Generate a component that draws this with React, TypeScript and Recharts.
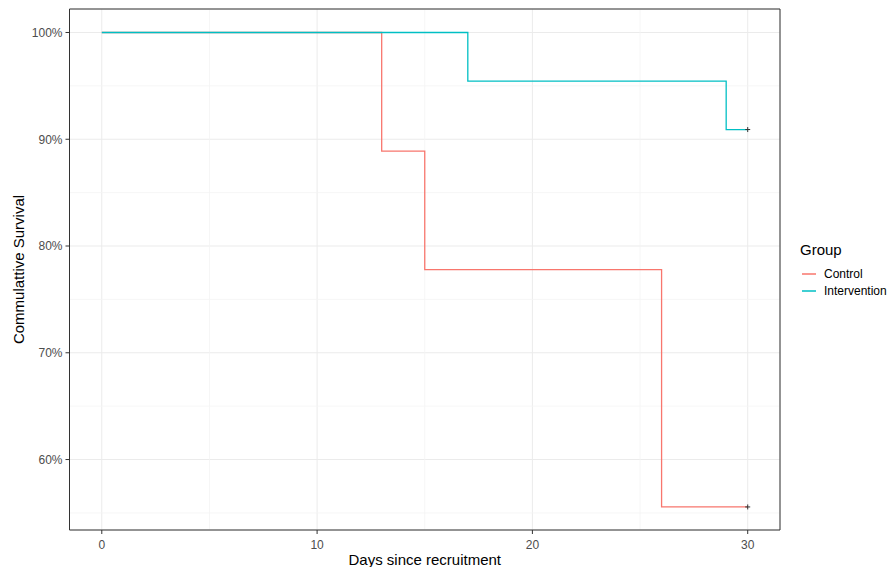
import React from "react";
import {
  ComposedChart,
  Line,
  Scatter,
  XAxis,
  YAxis,
  CartesianGrid,
  ReferenceLine,
  Label,
} from "recharts";

const controlTimes = [0, 13, 15, 26, 30];
const controlSurv = [100, 88.89, 77.78, 55.56, 55.56];
const interventionTimes = [0, 17, 29, 30];
const interventionSurv = [100, 95.45, 90.91, 90.91];
const censorTimes = [30, 30];
const censorSurv = [90.91, 55.56];
const xTicks = [0, 10, 20, 30];
const xMinor = [5, 15, 25];
const yTicks = [60, 70, 80, 90, 100];
const yMinor = [55, 65, 75, 85, 95];
const seriesNames = ["Control", "Intervention"];
const seriesColors = ["#F8766D", "#00BFC4"];

const controlData = controlTimes.map((t, i) => ({ t, s: controlSurv[i] }));
const interventionData = interventionTimes.map((t, i) => ({ t, s: interventionSurv[i] }));
const censorData = censorTimes.map((t, i) => ({ t, s: censorSurv[i] }));

const X_DOMAIN: [number, number] = [-1.5, 31.5];
const Y_DOMAIN: [number, number] = [53.4, 102.2];
const FONT = "'Liberation Sans', Arial, sans-serif";
const W = 896;
const H = 575;

const Plus = (props: any) => {
  const { cx, cy } = props;
  if (cx == null || cy == null) return null;
  return (
    <g>
      <line x1={cx - 2.5} x2={cx + 2.5} y1={cy} y2={cy} stroke="#333" strokeWidth={1} />
      <line x1={cx} x2={cx} y1={cy - 2.5} y2={cy + 2.5} stroke="#333" strokeWidth={1} />
    </g>
  );
};

const YTitle = (props: any) => {
  const vb = props.viewBox || {};
  const cy = (vb.y ?? 0) + (vb.height ?? 0) / 2;
  const cx = 18;
  return (
    <text
      x={cx}
      y={cy}
      transform={`rotate(-90, ${cx}, ${cy})`}
      textAnchor="middle"
      dominantBaseline="central"
      style={{ fill: "#000", fontSize: 15, fontFamily: FONT }}
    >
      Commulattive Survival
    </text>
  );
};

const XTitle = (props: any) => {
  const vb = props.viewBox || {};
  const cx = (vb.x ?? 0) + (vb.width ?? 0) / 2;
  const cy = 559.5;
  return (
    <text
      x={cx}
      y={cy}
      textAnchor="middle"
      dominantBaseline="central"
      style={{ fill: "#000", fontSize: 15, fontFamily: FONT }}
    >
      Days since recruitment
    </text>
  );
};

export default function App() {
  return (
    <div style={{ position: "relative", width: W, height: H, margin: -8, fontFamily: FONT }}>
      <ComposedChart
        width={W}
        height={H}
        margin={{ top: 9, right: 116, bottom: 0, left: 0 }}
      >
        <CartesianGrid stroke="#EBEBEB" strokeWidth={1} />
        {xMinor.map((v) => (
          <ReferenceLine key={"xm" + v} x={v} stroke="#F4F4F4" strokeWidth={0.8} />
        ))}
        {yMinor.map((v) => (
          <ReferenceLine key={"ym" + v} y={v} stroke="#F4F4F4" strokeWidth={0.8} />
        ))}
        <XAxis
          type="number"
          dataKey="t"
          domain={X_DOMAIN}
          ticks={xTicks}
          allowDataOverflow
          height={45}
          tickSize={4}
          tickMargin={6}
          stroke="#333"
          tick={{ fill: "#4D4D4D", fontSize: 12, fontFamily: FONT }}
          tickLine={{ stroke: "#333" }}
        >
          <Label content={<XTitle />} />
        </XAxis>
        <YAxis
          type="number"
          dataKey="s"
          domain={Y_DOMAIN}
          ticks={yTicks}
          allowDataOverflow
          width={69.5}
          tickSize={4}
          tickMargin={3}
          stroke="#333"
          tickFormatter={(v: number) => `${v}%`}
          tick={{ fill: "#4D4D4D", fontSize: 12, fontFamily: FONT }}
          tickLine={{ stroke: "#333" }}
        >
          <Label content={<YTitle />} />
        </YAxis>
        <ReferenceLine y={Y_DOMAIN[1]} stroke="#333" strokeWidth={1} />
        <ReferenceLine x={X_DOMAIN[1]} stroke="#333" strokeWidth={1} />
        <Line
          data={controlData}
          dataKey="s"
          type="stepAfter"
          stroke={seriesColors[0]}
          strokeWidth={1.3}
          dot={false}
          isAnimationActive={false}
          name={seriesNames[0]}
        />
        <Line
          data={interventionData}
          dataKey="s"
          type="stepAfter"
          stroke={seriesColors[1]}
          strokeWidth={1.3}
          dot={false}
          isAnimationActive={false}
          name={seriesNames[1]}
        />
        <Scatter data={censorData} dataKey="s" shape={<Plus />} isAnimationActive={false} />
      </ComposedChart>
      <div
        style={{
          position: "absolute",
          left: 800,
          top: 241,
          width: 88,
          whiteSpace: "nowrap",
          fontFamily: FONT,
        }}
      >
        <div style={{ fontSize: 15, color: "#000", marginBottom: 7 }}>Group</div>
        {seriesNames.map((n, i) => (
          <div key={n} style={{ display: "flex", alignItems: "center", height: 17.5 }}>
            <svg width={16} height={4} style={{ flex: "none", marginLeft: 1, marginRight: 7 }}>
              <line x1={1} x2={15} y1={2} y2={2} stroke={seriesColors[i]} strokeWidth={1.5} />
            </svg>
            <span style={{ fontSize: 12, color: "#000" }}>{n}</span>
          </div>
        ))}
      </div>
    </div>
  );
}
